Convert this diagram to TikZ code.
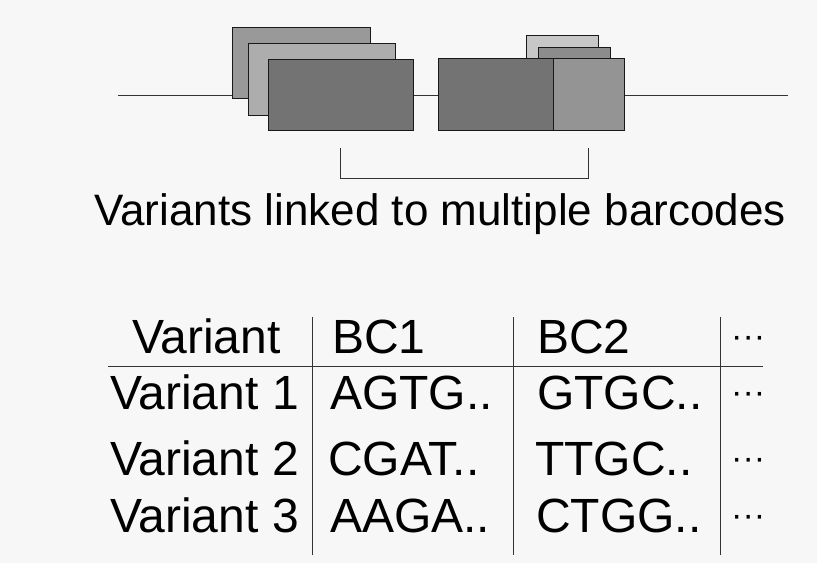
\documentclass[tikz,border=0pt]{standalone}
\usepackage{fontspec}
\setmainfont{Liberation Sans}
\begin{document}
\begin{tikzpicture}[x=1pt,y=-1pt,
  blk/.style={draw=black!90,line width=0.8pt},
  rule/.style={draw=black!80,line width=0.9pt},
  cell/.style={anchor=base west,inner sep=0pt,font=\fontsize{48}{48}\selectfont},
  more/.style={anchor=base west,inner sep=0pt,font=\fontsize{34}{34}\selectfont},
  title/.style={anchor=base,inner sep=0pt,font=\fontsize{44}{44}\selectfont}]
\useasboundingbox (0,0) rectangle (817,563);
\fill[black!3] (0,0) rectangle (817,563);
% backbone
\draw[rule] (118,95) -- (788,95);
% left group of barcoded fragments
\filldraw[blk,fill=black!40] (232,27) rectangle (370,98);
\filldraw[blk,fill=black!32] (248,43) rectangle (395,115);
\filldraw[blk,fill=black!55] (268,59) rectangle (413,130);
% right group
\filldraw[blk,fill=black!22] (526,35) rectangle (598,60);
\filldraw[blk,fill=black!45] (538,47) rectangle (610,60);
\filldraw[blk,fill=black!55] (438,58) rectangle (553,130);
\filldraw[blk,fill=black!42] (553,58) rectangle (624,130);
% bracket
\draw[rule] (340,148) -- (340,178) -- (588,178) -- (588,148);
\node[title] (ttl) at (440,225) {Variants linked to multiple barcodes};
% table
\node[cell] (h0) at (132,353) {Variant};
\node[cell] (h1) at (332,353) {BC1};
\node[cell] (h2) at (537,353) {BC2};
\node[more] (h3) at (731,347) {···};
\node[cell] (r10) at (110,409) {Variant 1};
\node[cell] (r11) at (330,409) {AGTG..};
\node[cell] (r12) at (537,409) {GTGC..};
\node[more] (r13) at (731,403) {···};
\node[cell] (r20) at (110,475) {Variant 2};
\node[cell] (r21) at (328,475) {CGAT..};
\node[cell] (r22) at (535,475) {TTGC..};
\node[more] (r23) at (731,469) {···};
\node[cell] (r30) at (110,532) {Variant 3};
\node[cell] (r31) at (330,532) {AAGA..};
\node[cell] (r32) at (536,532) {CTGG..};
\node[more] (r33) at (731,526) {···};
\draw[rule] (108,366) -- (763,366);
\draw[rule] (312,317) -- (312,555);
\draw[rule] (513,317) -- (513,555);
\draw[rule] (720,317) -- (720,555);
\end{tikzpicture}
\end{document}
